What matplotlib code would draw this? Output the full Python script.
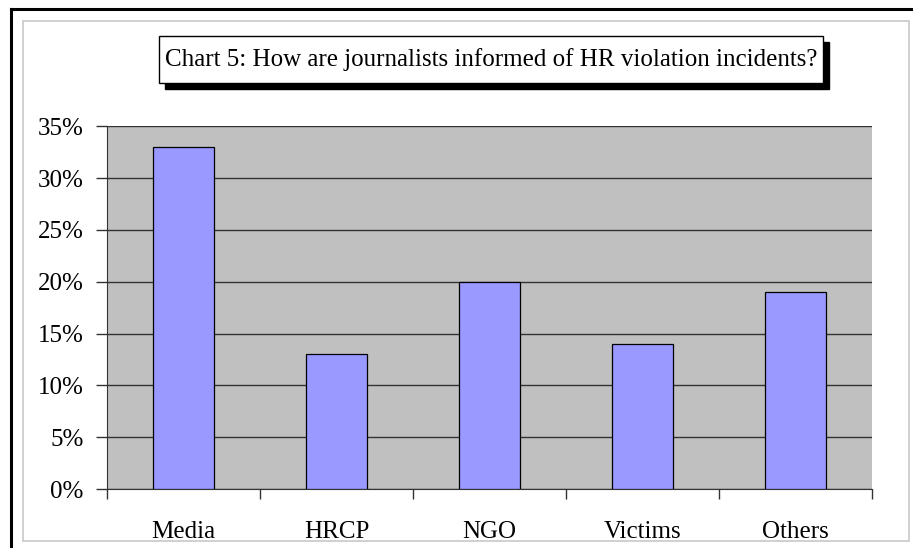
import matplotlib
matplotlib.use("Agg")
import matplotlib.pyplot as plt
from matplotlib.patches import Rectangle
from matplotlib.ticker import FuncFormatter

categories = ["Media", "HRCP", "NGO", "Victims", "Others"]
shares = [33, 13, 20, 14, 19]
yticks = [0, 5, 10, 15, 20, 25, 30, 35]
title = "Chart 5: How are journalists informed of HR violation incidents?"

plt.rcParams["font.family"] = ["Liberation Serif", "DejaVu Serif"]

W, H = 913, 548
fig = plt.figure(figsize=(W / 100, H / 100), dpi=100)
fig.patch.set_facecolor("white")

# outer black frame (left + top) and inner light-gray chart border
fig.add_artist(plt.Line2D([11 / W, 11 / W], [0, 1 - 9 / H], color="black", lw=2.2,
                          transform=fig.transFigure))
fig.add_artist(plt.Line2D([11 / W, 1], [1 - 9 / H, 1 - 9 / H], color="black", lw=2.2,
                          transform=fig.transFigure))
fig.add_artist(Rectangle((23 / W, 7 / H), 886 / W, 520 / H, transform=fig.transFigure,
                         fill=False, edgecolor="#c8c8c8", lw=1.2))

ax = fig.add_axes([107 / W, 59 / H, 765 / W, 362.6 / H])
ax.set_facecolor("#c0c0c0")
x = range(len(categories))
ax.bar(x, shares, width=0.4, color="#9999ff", edgecolor="black", lw=0.9, zorder=3)

ax.set_ylim(0, 35)
ax.set_xlim(-0.5, len(categories) - 0.5)
ax.set_yticks(yticks)
ax.yaxis.set_major_formatter(FuncFormatter(lambda v, p: f"{v:.0f}%"))
ax.grid(axis="y", color="#333333", lw=1, zorder=1)
ax.set_axisbelow(True)

ax.set_xticks([i - 0.5 for i in range(len(categories) + 1)])
ax.set_xticklabels([])
ax.set_xticks(list(x), minor=True)
ax.set_xticklabels(categories, minor=True)
ax.tick_params(axis="x", which="major", direction="out", length=7, width=1, color="#333333")
ax.tick_params(axis="x", which="minor", length=0, pad=23, labelsize=18)
ax.tick_params(axis="y", direction="out", length=8, width=1, color="#333333",
               labelsize=18, pad=9)

for s in ["top", "right"]:
    ax.spines[s].set_visible(False)
ax.spines["left"].set_color("#333333")
ax.spines["bottom"].set_color("#333333")

# title box with drop shadow
bx, by, bw, bh = 159 / W, 1 - 83 / H, 664 / W, 47 / H
fig.add_artist(Rectangle((bx + 6 / W, by - 6 / H), bw, bh, transform=fig.transFigure,
                         facecolor="black", edgecolor="black", lw=1))
fig.add_artist(Rectangle((bx, by), bw, bh, transform=fig.transFigure,
                         facecolor="white", edgecolor="black", lw=1))
fig.text(bx + bw / 2, by + bh / 2, title, ha="center", va="center", fontsize=18)

plt.savefig("out.png", dpi=100)
